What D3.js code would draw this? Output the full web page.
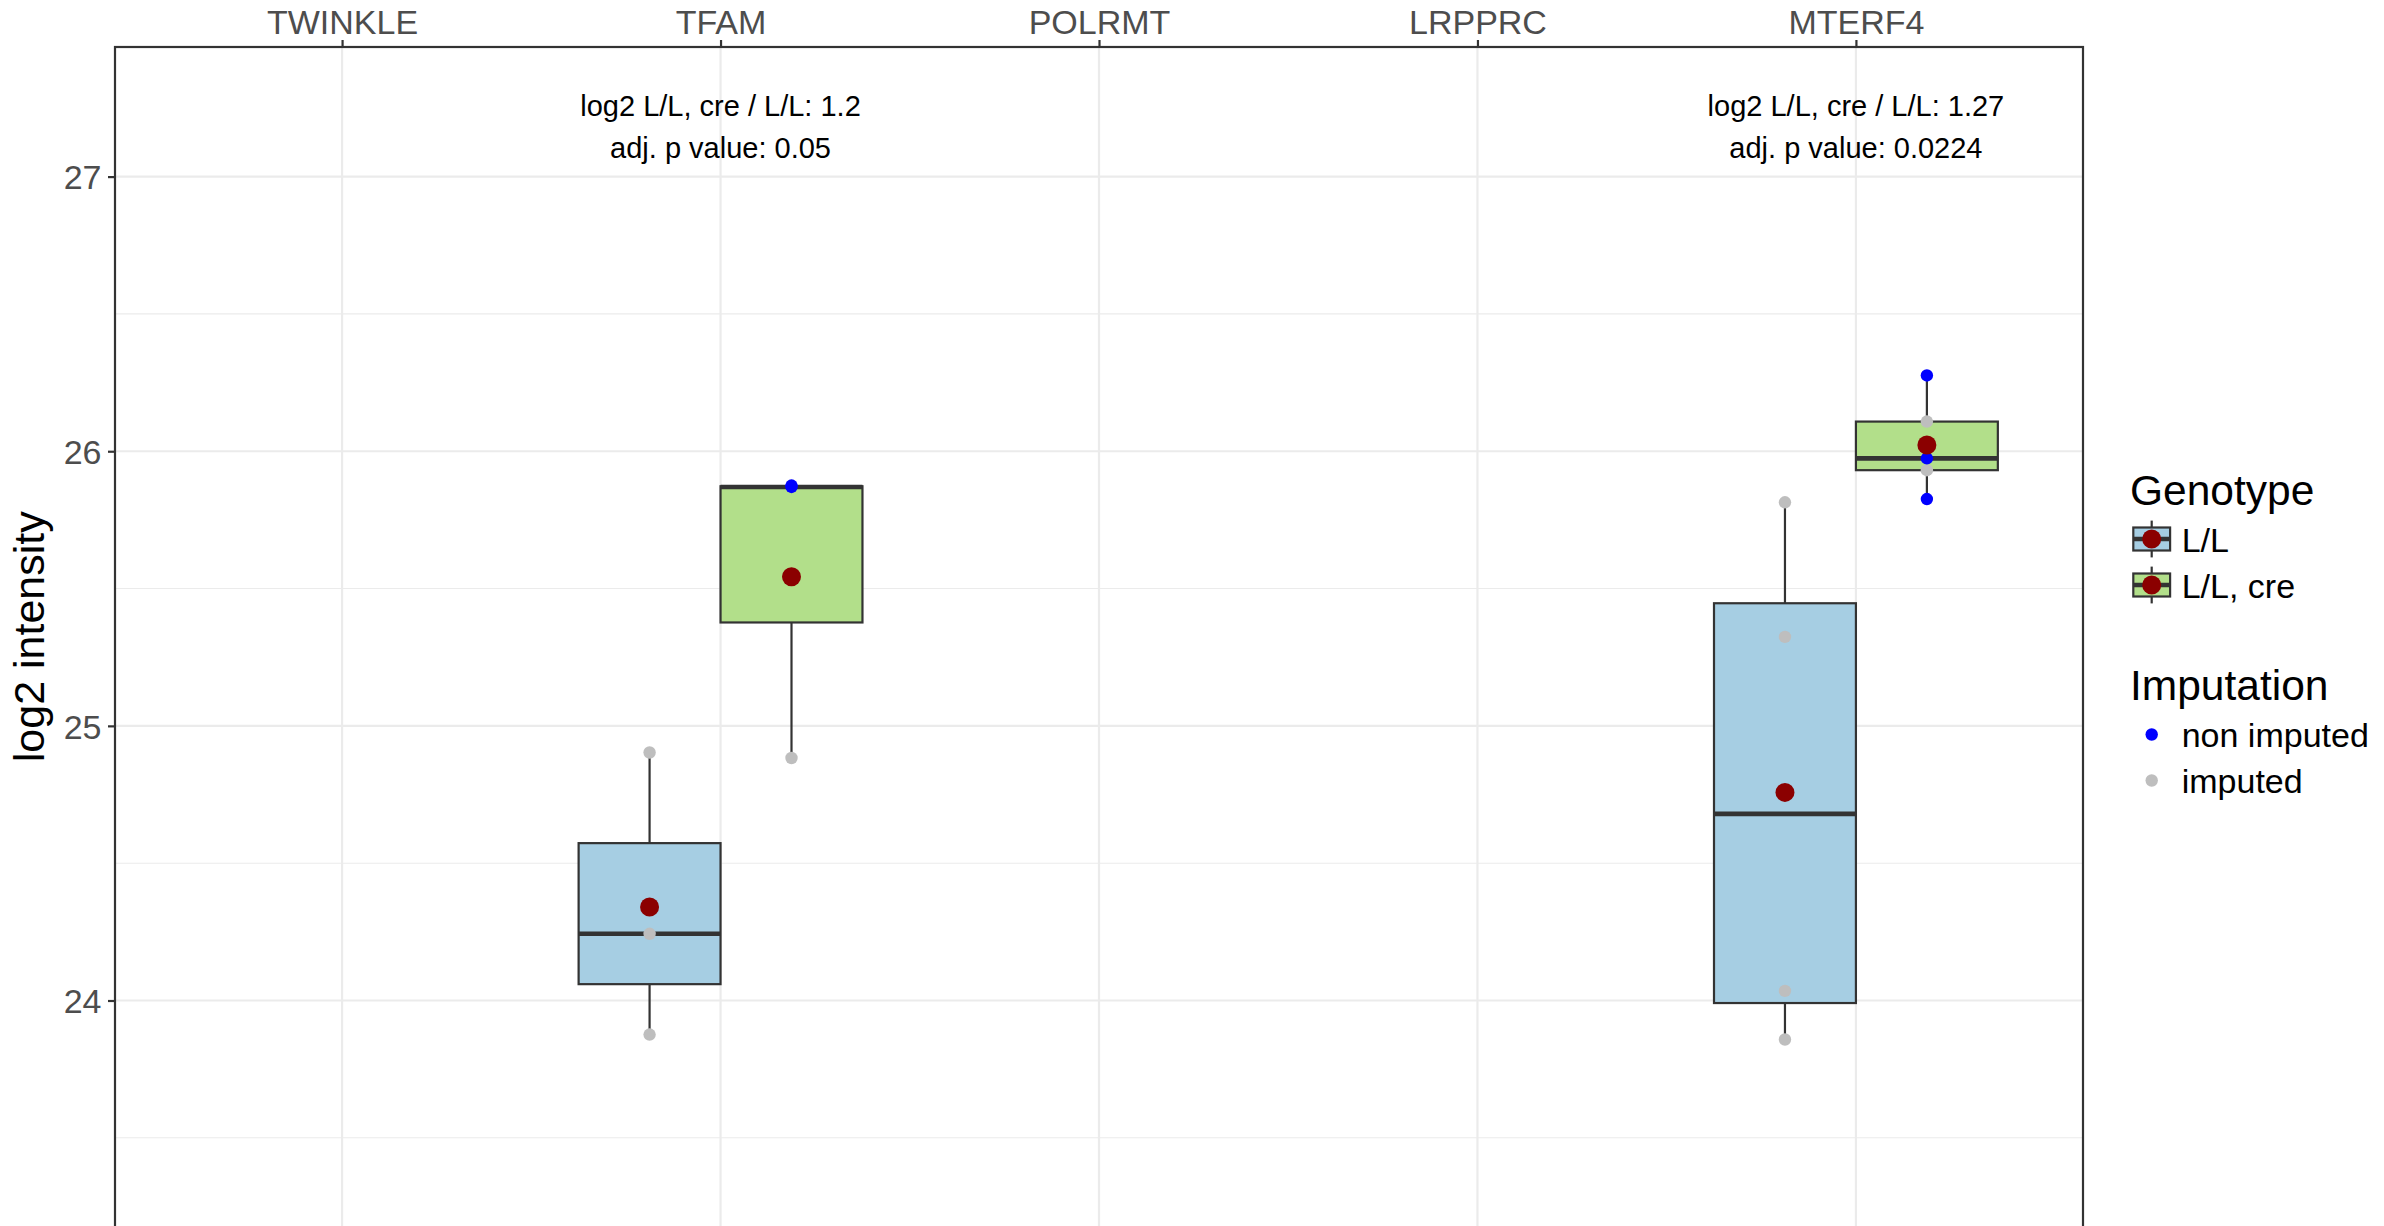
<!DOCTYPE html>
<html><head><meta charset="utf-8">
<script src="https://cdn.jsdelivr.net/npm/d3@7"></script>
<style>html,body{margin:0;padding:0;background:#fff;overflow:hidden;} svg{display:block;font-family:"Liberation Sans",Arial,Helvetica,sans-serif;}</style>
</head><body>
<svg id="chart" width="2384" height="1226"></svg>
<script>
// ---------- data ----------
const categories = ["TWINKLE", "TFAM", "POLRMT", "LRPPRC", "MTERF4"];
const genotypes = ["L/L", "L/L, cre"];
const genotypeColors = ["#A6CEE3", "#B2DF8A"];
const imputationLabels = ["non imputed", "imputed"];
const imputationColors = ["#0000FF", "#BEBEBE"];
const yTicks = [24, 25, 26, 27];
const yMinorTicks = [23.5, 24.5, 25.5, 26.5];

// individual observations
const obsGene     = ["TFAM", "TFAM", "TFAM", "TFAM", "TFAM", "TFAM",
                     "MTERF4", "MTERF4", "MTERF4", "MTERF4",
                     "MTERF4", "MTERF4", "MTERF4", "MTERF4", "MTERF4"];
const obsGenotype = ["L/L", "L/L", "L/L", "L/L, cre", "L/L, cre", "L/L, cre",
                     "L/L", "L/L", "L/L", "L/L",
                     "L/L, cre", "L/L, cre", "L/L, cre", "L/L, cre", "L/L, cre"];
const obsValue    = [23.876, 24.243, 24.903, 24.883, 25.870, 25.875,
                     23.858, 24.035, 25.324, 25.814,
                     25.826, 25.931, 25.974, 26.108, 26.276];
const obsImputed  = ["imputed", "imputed", "imputed", "imputed", "non imputed", "non imputed",
                     "imputed", "imputed", "imputed", "imputed",
                     "non imputed", "imputed", "non imputed", "imputed", "non imputed"];

// annotations
const annotGene  = ["TFAM", "MTERF4"];
const annotRatio = ["1.2", "1.27"];
const annotP     = ["0.05", "0.0224"];

// ---------- layout ----------
const W = 2384, H = 1226;
const panel = {left: 115, right: 2083, top: 47, bottom: 1240};
const svg = d3.select("#chart");

const x = d3.scalePoint().domain(categories).range([panel.left, panel.right]).padding(0.6);
const dodge = d3.scaleBand().domain(genotypes)
  .range([-0.375 * x.step(), 0.375 * x.step()]).paddingInner(0).paddingOuter(0);
const y = d3.scaleLinear().domain([24, 27]).range([1000.5, 176.6]);
const fill = d3.scaleOrdinal().domain(genotypes).range(genotypeColors);
const ptColor = d3.scaleOrdinal().domain(imputationLabels).range(imputationColors);

const grid = "#EBEBEB", dark = "#333333", axisText = "#4D4D4D";

// gridlines
const g = svg.append("g");
g.selectAll(".minor").data(yMinorTicks).enter().append("line")
  .attr("x1", panel.left).attr("x2", panel.right)
  .attr("y1", d => y(d)).attr("y2", d => y(d))
  .attr("stroke", grid).attr("stroke-width", 1.1);
g.selectAll(".major").data(yTicks).enter().append("line")
  .attr("x1", panel.left).attr("x2", panel.right)
  .attr("y1", d => y(d)).attr("y2", d => y(d))
  .attr("stroke", grid).attr("stroke-width", 2.2);
g.selectAll(".vmajor").data(categories).enter().append("line")
  .attr("x1", d => x(d)).attr("x2", d => x(d))
  .attr("y1", panel.top).attr("y2", panel.bottom)
  .attr("stroke", grid).attr("stroke-width", 2.2);

// ---------- box stats ----------
const obs = obsValue.map((v, i) => ({gene: obsGene[i], geno: obsGenotype[i], value: v, imp: obsImputed[i]}));
const groups = d3.groups(obs, d => d.gene, d => d.geno);
const stats = [];
groups.forEach(([gene, arr]) => {
  arr.forEach(([geno, items]) => {
    const vals = items.map(d => d.value).sort(d3.ascending);
    const q1 = d3.quantile(vals, 0.25), med = d3.quantile(vals, 0.5), q3 = d3.quantile(vals, 0.75);
    const iqr = q3 - q1;
    const lo = d3.min(vals.filter(v => v >= q1 - 1.5 * iqr));
    const hi = d3.max(vals.filter(v => v <= q3 + 1.5 * iqr));
    stats.push({gene, geno, q1, med, q3, lo, hi, mean: d3.mean(vals)});
  });
});

const bw = dodge.bandwidth();
const cx = d => x(d.gene) + dodge(d.geno) + bw / 2;

const boxes = svg.append("g").selectAll("g").data(stats).enter().append("g");
boxes.append("line").attr("x1", cx).attr("x2", cx)
  .attr("y1", d => y(d.q3)).attr("y2", d => y(d.hi)).attr("stroke", dark).attr("stroke-width", 2.2);
boxes.append("line").attr("x1", cx).attr("x2", cx)
  .attr("y1", d => y(d.q1)).attr("y2", d => y(d.lo)).attr("stroke", dark).attr("stroke-width", 2.2);
boxes.append("rect")
  .attr("x", d => x(d.gene) + dodge(d.geno)).attr("width", bw)
  .attr("y", d => y(d.q3)).attr("height", d => y(d.q1) - y(d.q3))
  .attr("fill", d => fill(d.geno)).attr("stroke", dark).attr("stroke-width", 2.2);
boxes.append("line")
  .attr("x1", d => x(d.gene) + dodge(d.geno)).attr("x2", d => x(d.gene) + dodge(d.geno) + bw)
  .attr("y1", d => y(d.med)).attr("y2", d => y(d.med))
  .attr("stroke", dark).attr("stroke-width", 4.6);

// points
svg.append("g").selectAll("circle").data(obs).enter().append("circle")
  .attr("cx", cx).attr("cy", d => y(d.value)).attr("r", 6.2)
  .attr("fill", d => ptColor(d.imp));

// means
svg.append("g").selectAll("circle").data(stats).enter().append("circle")
  .attr("cx", cx).attr("cy", d => y(d.mean)).attr("r", 9.5)
  .attr("fill", "#8B0000");

// panel border
svg.append("rect").attr("x", panel.left).attr("y", panel.top)
  .attr("width", panel.right - panel.left).attr("height", panel.bottom - panel.top)
  .attr("fill", "none").attr("stroke", dark).attr("stroke-width", 2.2);

// ---------- axes ----------
const topAxis = svg.append("g").attr("transform", `translate(0,${panel.top})`)
  .call(d3.axisTop(x).tickSizeInner(7).tickSizeOuter(0).tickPadding(6));
topAxis.select(".domain").remove();
topAxis.selectAll(".tick line").attr("stroke", dark).attr("stroke-width", 2.2);
topAxis.selectAll(".tick text").attr("fill", axisText).attr("font-size", 34)
  .attr("font-family", "Liberation Sans, Arial, sans-serif").attr("dy", 0).attr("y", -13);

const leftAxis = svg.append("g").attr("transform", `translate(${panel.left},0)`)
  .call(d3.axisLeft(y).tickValues(yTicks).tickFormat(d3.format("d")).tickSizeInner(7).tickSizeOuter(0).tickPadding(6));
leftAxis.select(".domain").remove();
leftAxis.selectAll(".tick line").attr("stroke", dark).attr("stroke-width", 2.2);
leftAxis.selectAll(".tick text").attr("fill", axisText).attr("font-size", 34)
  .attr("font-family", "Liberation Sans, Arial, sans-serif").attr("x", -13.5).attr("dy", "0.36em");

// y axis title
svg.append("text").attr("transform", `translate(44,636.7) rotate(-90)`)
  .attr("text-anchor", "middle").attr("font-size", 43).attr("fill", "#000")
  .text("log2 intensity");

// ---------- annotations ----------
const ann = svg.append("g").selectAll("g").data(annotGene).enter().append("g");
ann.append("text").attr("x", d => x(d)).attr("y", 116).attr("text-anchor", "middle")
  .attr("font-size", 29).attr("fill", "#000")
  .text((d, i) => `log2 L/L, cre / L/L: ${annotRatio[i]}`);
ann.append("text").attr("x", d => x(d)).attr("y", 158).attr("text-anchor", "middle")
  .attr("font-size", 29).attr("fill", "#000")
  .text((d, i) => `adj. p value: ${annotP[i]}`);

// ---------- legend ----------
const lg = svg.append("g");
const keyX = 2151.7, keySize = 46, labelX = 2181.7;
lg.append("text").attr("x", 2130).attr("y", 505).attr("font-size", 42.5).attr("fill", "#000").text("Genotype");
const gk = lg.selectAll(".gk").data(genotypes).enter().append("g")
  .attr("transform", (d, i) => `translate(${keyX},${539 + i * keySize})`);
gk.append("line").attr("x1", 0).attr("x2", 0).attr("y1", -0.4 * keySize).attr("y2", 0.4 * keySize)
  .attr("stroke", dark).attr("stroke-width", 2.2);
gk.append("rect").attr("x", -0.4 * keySize).attr("width", 0.8 * keySize)
  .attr("y", -0.25 * keySize).attr("height", 0.5 * keySize)
  .attr("fill", d => fill(d)).attr("stroke", dark).attr("stroke-width", 2.2);
gk.append("line").attr("x1", -0.4 * keySize).attr("x2", 0.4 * keySize).attr("y1", 0).attr("y2", 0)
  .attr("stroke", dark).attr("stroke-width", 4.4);
gk.append("circle").attr("r", 9.5).attr("fill", "#8B0000");
gk.append("text").attr("x", labelX - keyX).attr("y", 12.5).attr("font-size", 34).attr("fill", "#000").text(d => d);

lg.append("text").attr("x", 2130).attr("y", 700).attr("font-size", 42.5).attr("fill", "#000").text("Imputation");
const ik = lg.selectAll(".ik").data(imputationLabels).enter().append("g")
  .attr("transform", (d, i) => `translate(${keyX},${734.5 + i * keySize})`);
ik.append("circle").attr("r", 6.2).attr("fill", d => ptColor(d));
ik.append("text").attr("x", labelX - keyX).attr("y", 12.5).attr("font-size", 34).attr("fill", "#000").text(d => d);
</script>
</body></html>
